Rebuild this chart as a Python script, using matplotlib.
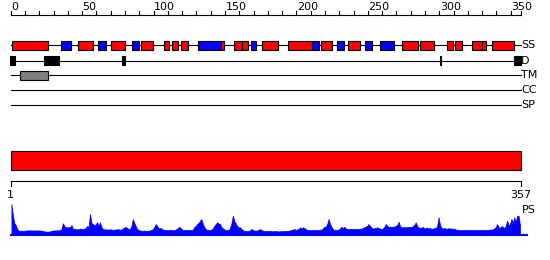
import numpy as np
import matplotlib
matplotlib.use("Agg")
import matplotlib.pyplot as plt

# sequence length and feature tracks (residue coordinates)
seq_len = 357

ss_start = [1, 35, 47, 61, 70, 85, 91, 107.5, 113, 119, 131, 147, 156.5, 161.9, 168.2, 176,
            194.3, 211.1, 217.2, 228.6, 236.3, 248.2, 258.7, 273.7, 286.7, 305.6, 311.2, 323.1, 329.7, 337.1]
ss_end = [26, 42, 57.4, 66.7, 79.8, 89.6, 99.4, 110.6, 116.9, 123.9, 147, 149.5, 161.9, 165.9, 171.5, 186.9,
          211.1, 215.6, 225.1, 233.5, 244.7, 253.1, 268.5, 285.3, 296.5, 309.4, 316.1, 329.7, 332.5, 352.5]
ss_type = ['H', 'E', 'H', 'E', 'H', 'E', 'H', 'H', 'H', 'H', 'E', 'H', 'H', 'H', 'E', 'H',
           'H', 'E', 'H', 'E', 'H', 'E', 'E', 'H', 'H', 'H', 'H', 'H', 'H', 'H']

dis_start = [-0.5, 23.5, 78, 300.3, 352.3]
dis_end = [2.8, 33.8, 79.8, 301.5, 357]

tm_start = [6.7]
tm_end = [25.9]

track_names = ['SS', 'D', 'TM', 'CC', 'SP']
track_y = [45.3, 60.5, 75.3, 90, 105.3]

# PS profile, one value per residue
ps = [31, 20, 12, 10, 6, 4.5, 4, 4.5, 4, 4.3, 4.5, 4.5, 4.8, 4.5, 4.6, 4.6, 4.5, 4.7, 4.5, 4.6,
      4.5, 4.3, 4.2, 3.6, 3.4, 3.3, 3.4, 3.6, 4.2, 4.5, 4.6, 4.5, 4.8, 4.6, 5.0, 6.0, 11.7, 9, 8, 7.5,
      8, 7.5, 10, 6.5, 6, 6.2, 5.5, 5.8, 6.4, 6.2, 6, 6.5, 7, 9, 8, 21, 12, 11, 10, 10.5,
      13, 9, 12.7, 8, 6, 5.5, 5.8, 5.4, 5.5, 5.6, 5.5, 5.2, 5.4, 5.5, 5.8, 5.6, 5.3, 5.5, 6.5, 7.5,
      8, 7, 6, 6, 9, 16, 12, 9, 6, 5, 4.5, 4.3, 4.2, 4.5, 4.3, 4.0, 4.4, 4.5, 5, 6,
      8, 11, 9, 7, 7, 6.5, 5.5, 5, 5.2, 4.8, 5, 5.2, 5.1, 4.8, 5, 5.5, 6.5, 7.7, 7.7, 6,
      5, 5.2, 4.9, 5, 5.3, 5.1, 5, 5.5, 8, 9, 11, 12, 14.3, 16, 11, 8, 6, 5, 5.2, 5,
      5.5, 6.5, 9.3, 11, 12.7, 11.5, 11, 8, 6.7, 5.5, 5, 5.2, 5, 7, 11.7, 19.3, 14, 11.7, 9, 7.7,
      7.7, 6, 5, 4, 4.2, 4, 4.1, 4.5, 6, 5, 4.5, 4.3, 4.6, 5, 6, 5, 4.5, 4, 4.2, 4,
      4, 4.1, 3.9, 3.7, 3.8, 4, 3.7, 3.6, 3.8, 3.7, 4, 3.8, 4.2, 4, 4.3, 4.6, 5, 5.5, 6, 5,
      5.5, 6, 7.7, 6.5, 7.7, 7, 6, 5, 5.2, 5, 4.8, 5, 5.3, 5.1, 4.9, 5, 5.2, 5.5, 6.5, 8.3,
      8.3, 11, 16, 11, 8.3, 6, 5, 5.2, 5, 5.5, 6.5, 8.3, 6.5, 8.3, 6.5, 6, 5.8, 6, 6.3, 6,
      5.8, 6.2, 6, 5.9, 6.2, 6.5, 7, 7.7, 8.5, 9, 11, 9, 7.7, 6.5, 6.7, 7, 7.7, 7, 6.5, 6,
      6.5, 8, 11, 9, 8.3, 8.5, 8, 8.3, 8.5, 9, 10, 13.3, 9, 7.7, 7.7, 8, 7.5, 8, 8.2, 7.8,
      8, 9, 10, 12.7, 9, 7.5, 7, 7.5, 8, 6.5, 6.8, 7.5, 6.5, 7, 6.2, 6.5, 6.8, 7, 9, 17.7,
      10, 7, 6.5, 7, 6.5, 6.2, 6.8, 6.5, 6.3, 6.5, 6.2, 5.5, 5, 5.2, 5, 4.8, 5, 5.2, 5, 4.9,
      5, 5.1, 5, 4.8, 5, 5.2, 5, 4.9, 5.1, 5, 5.2, 5, 5.3, 5, 5.2, 5.5, 5.3, 5.8, 6.5, 8,
      11, 8, 7, 9, 8, 7, 9, 14.3, 10, 11, 16, 12, 17.7, 13, 19.3, 19.3, 10]

tick_vals = list(range(0, 351, 10))
tick_labels = [0, 50, 100, 150, 200, 250, 300, 350]

fig = plt.figure(figsize=(5.5, 2.6), dpi=100)
ax = fig.add_axes([0, 0, 1, 1])
ax.set_xlim(-7.5, 377.5)
ax.set_ylim(260, 0)
ax.axis('off')

lw = 0.8
fs = 8

# top ruler
ax.plot([0, seq_len], [15, 15], color='black', lw=lw)
for t in tick_vals + [seq_len]:
    ax.plot([t, t], [15, 11], color='black', lw=lw)
for t in tick_labels:
    ax.text(t + 0.3, 6.5, str(t), fontsize=fs, ha='left', va='center')

# track lines and labels
for name, y in zip(track_names, track_y):
    ax.plot([0, seq_len], [y, y], color='black', lw=lw, zorder=1)
    ax.text(seq_len + 0.3, y, name, fontsize=fs, ha='left', va='center')

h = 9.6
ss_colors = ['red' if t == 'H' else 'blue' for t in ss_type]
ax.barh([track_y[0]] * len(ss_start), np.subtract(ss_end, ss_start), left=ss_start,
        height=h, color=ss_colors, edgecolor='black', linewidth=lw, zorder=2)
ax.barh([track_y[1]] * len(dis_start), np.subtract(dis_end, dis_start), left=dis_start,
        height=h, color='black', edgecolor='black', linewidth=lw, zorder=2)
ax.barh([track_y[2]] * len(tm_start), np.subtract(tm_end, tm_start), left=tm_start,
        height=h, color='#808080', edgecolor='black', linewidth=lw, zorder=2)

# full-length red bar
ax.barh(160.5, seq_len, left=0, height=19.6, color='red', edgecolor='black', linewidth=lw)

# bottom ruler
ax.plot([0, seq_len], [180.7, 180.7], color='black', lw=lw)
ax.plot([0, 0], [180.7, 185.5], color='black', lw=lw)
ax.plot([seq_len, seq_len], [180.7, 185.5], color='black', lw=lw)
ax.text(0, 195, '1', fontsize=fs, ha='center', va='center')
ax.text(seq_len, 195, str(seq_len), fontsize=fs, ha='center', va='center')
ax.text(seq_len + 1, 210, 'PS', fontsize=fs, ha='left', va='center')

# PS profile
base = 235
x = np.arange(1, seq_len + 1) - 0.5
ax.fill_between(x, base - np.array(ps), base, color='blue', lw=0.5, edgecolor='blue')
ax.plot([0, seq_len + 4.5], [base, base], color='blue', lw=1.5)

fig.savefig('out.png', dpi=100)
